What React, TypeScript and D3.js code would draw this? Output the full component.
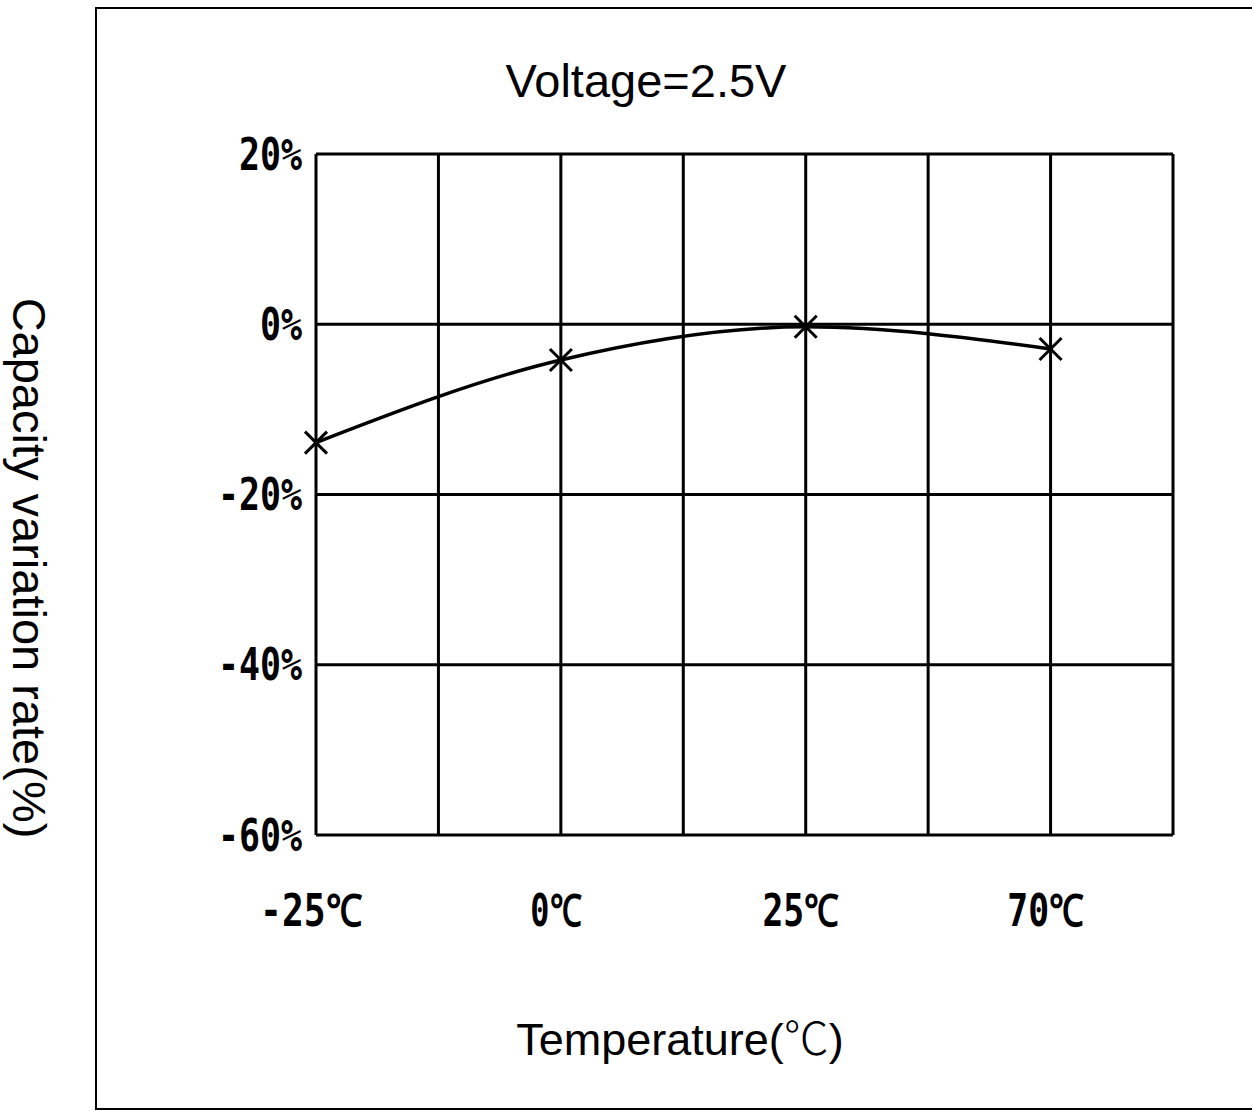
import React from 'react';
import * as d3 from 'd3';

// temperature categories and measured capacity change (%)
const categories = ['-25℃', '0℃', '25℃', '70℃'];
const capacity = [-13.9, -4.2, -0.3, -2.9];
const yTicks = [20, 0, -20, -40, -60];
const title = 'Voltage=2.5V';
const yTitle = 'Capacity variation rate(%)';

const W = 1252;
const H = 1111;
const plot = { left: 316, right: 1173, top: 154, bottom: 835 };
const gridCols = 7;

const App: React.FC = () => {
  const x = d3.scaleLinear().domain([0, gridCols]).range([plot.left, plot.right]);
  const y = d3.scaleLinear().domain([-60, 20]).range([plot.bottom, plot.top]);
  // each category sits on every second vertical grid line
  const cx = (i: number) => x(i * 2);

  const pts: [number, number][] = capacity.map((v, i) => [cx(i), y(v)]);
  const line = d3.line<[number, number]>()
    .x(d => d[0])
    .y(d => d[1])
    .curve(d3.curveMonotoneX);

  const sans = '"Liberation Sans", Arial, sans-serif';
  const cjk = '"Noto Sans CJK SC", sans-serif';
  const pixel = '"DejaVu Sans Mono", "Liberation Mono", monospace';

  return (
    <svg width={W} height={H} style={{ position: 'absolute', left: 0, top: 0, background: '#fff' }}>
      {/* outer frame */}
      <rect x={96} y={8} width={W} height={1101} fill="none" stroke="#000" strokeWidth={2} />

      {/* grid */}
      <g stroke="#000" strokeWidth={3}>
        {d3.range(gridCols + 1).map(i => (
          <line key={'v' + i} x1={x(i)} x2={x(i)} y1={plot.top} y2={plot.bottom} />
        ))}
        {yTicks.map(t => (
          <line key={'h' + t} x1={plot.left} x2={plot.right} y1={y(t)} y2={y(t)} />
        ))}
      </g>

      {/* y tick labels */}
      <g fontFamily={pixel} fontWeight="bold" fontSize={44} fill="#000">
        {yTicks.map(t => {
          const s = `${t}%`;
          return (
            <text key={t} x={302} y={y(t)} textAnchor="end" dominantBaseline="central"
              textLength={s.length * 21} lengthAdjust="spacingAndGlyphs">{s}</text>
          );
        })}
      </g>

      {/* x tick labels */}
      <g fontFamily={pixel} fontWeight="bold" fontSize={44} fill="#000">
        {categories.map((c, i) => (
          <text key={c} x={cx(i) - 5} y={910} textAnchor="middle" dominantBaseline="central"
            textLength={c.length * 25.5} lengthAdjust="spacingAndGlyphs">{c}</text>
        ))}
      </g>

      {/* data line */}
      <path d={line(pts) || ''} fill="none" stroke="#000" strokeWidth={3.5} />
      <g stroke="#000" strokeWidth={3}>
        {pts.map(([px, py], i) => (
          <g key={i}>
            <line x1={px - 11} y1={py - 11} x2={px + 11} y2={py + 11} />
            <line x1={px - 11} y1={py + 11} x2={px + 11} y2={py - 11} />
          </g>
        ))}
      </g>

      {/* titles */}
      <text x={646} y={97} textAnchor="middle" fontFamily={sans} fontSize={47} fill="#000">{title}</text>
      <text x={680} y={1055} textAnchor="middle" fontFamily={sans} fontSize={45} fill="#000">
        Temperature(<tspan fontFamily={cjk} fontWeight={300}>℃</tspan>)
      </text>
      <text x={13} y={568} textAnchor="middle" fontFamily={sans} fontSize={47} fill="#000"
        transform="rotate(90 13 568)">{yTitle}</text>
    </svg>
  );
};

export default App;
